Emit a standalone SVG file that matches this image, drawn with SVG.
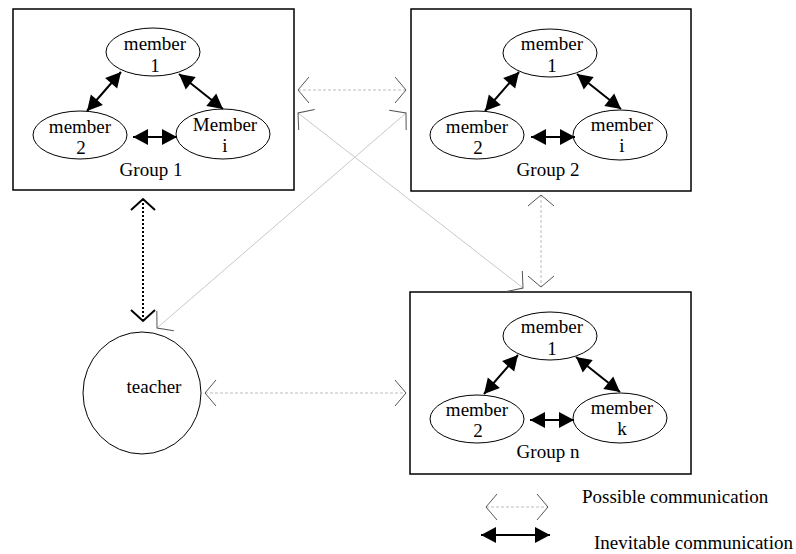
<svg xmlns="http://www.w3.org/2000/svg" width="796" height="554" viewBox="0 0 796 554">
<style>
text{font-family:"Liberation Serif","Times New Roman",serif;font-size:19px;fill:#000;text-anchor:middle}
.box{fill:#fff;stroke:#000;stroke-width:1.5}
.mem{fill:#fff;stroke:#000;stroke-width:1}
.inev{stroke:#000;stroke-width:2;fill:none;marker-start:url(#solidHead);marker-end:url(#solidHead)}
.poss{stroke:#bdbdbd;stroke-width:1;stroke-dasharray:3 2;fill:none;marker-start:url(#chev);marker-end:url(#chev)}
.possd{stroke:#c8c8c8;stroke-width:1;fill:none;marker-start:url(#chev);marker-end:url(#chev)}
.dot{stroke:#000;stroke-width:2;stroke-dasharray:2 2;fill:none;marker-start:url(#chevB);marker-end:url(#chevB)}
</style>
<defs>
<marker id="solidHead" markerUnits="userSpaceOnUse" viewBox="-16 -9 17 18" markerWidth="17" markerHeight="18" refX="0" refY="0" orient="auto-start-reverse">
<path d="M-15,-8 L0,0 L-15,8 Z" fill="#000"/>
</marker>
<marker id="chev" markerUnits="userSpaceOnUse" viewBox="-13 -15 15 30" markerWidth="15" markerHeight="30" refX="0" refY="0" orient="auto-start-reverse">
<path d="M-11,-13 L0,0 L-11,13" fill="none" stroke="#555" stroke-width="1"/>
</marker>
<marker id="chevB" markerUnits="userSpaceOnUse" viewBox="-14 -15 16 30" markerWidth="16" markerHeight="30" refX="0" refY="0" orient="auto-start-reverse">
<path d="M-11,-12 L0,0 L-11,12" fill="none" stroke="#000" stroke-width="2"/>
</marker>
</defs>
<rect width="796" height="554" fill="#fff"/>

<g id="group1" transform="translate(13,9)">
<rect class="box" x="0" y="0" width="281" height="181"/>
<g id="g1-member1"><ellipse class="mem" cx="140" cy="43" rx="47" ry="24"/><text x="142" y="41">member</text><text x="142" y="63">1</text></g>
<g id="g1-member2"><ellipse class="mem" cx="67" cy="126" rx="47" ry="24"/><text x="67" y="124">member</text><text x="68" y="145">2</text></g>
<g id="g1-memberi"><ellipse class="mem" cx="210" cy="125" rx="47" ry="25"/><text x="212" y="122">Member</text><text x="212" y="143">i</text></g>
<text x="138" y="167">Group 1</text>
</g>

<g id="group2" transform="translate(411,9)">
<rect class="box" x="0" y="0" width="280" height="182"/>
<g id="g2-member1"><ellipse class="mem" cx="139" cy="44" rx="47" ry="24"/><text x="141" y="41">member</text><text x="141" y="63">1</text></g>
<g id="g2-member2"><ellipse class="mem" cx="66" cy="126" rx="47" ry="24"/><text x="66" y="124">member</text><text x="67" y="145">2</text></g>
<g id="g2-memberi"><ellipse class="mem" cx="209" cy="126" rx="47" ry="25"/><text x="211" y="122">member</text><text x="211" y="143">i</text></g>
<text x="137" y="167">Group 2</text>
</g>

<g id="groupn" transform="translate(410,292)">
<rect class="box" x="0" y="0" width="281" height="182"/>
<g id="gn-member1"><ellipse class="mem" cx="140" cy="44" rx="47" ry="24"/><text x="142" y="41">member</text><text x="142" y="63">1</text></g>
<g id="gn-member2"><ellipse class="mem" cx="67" cy="127" rx="47" ry="24"/><text x="67" y="124">member</text><text x="68" y="145">2</text></g>
<g id="gn-memberk"><ellipse class="mem" cx="210" cy="126" rx="47" ry="25"/><text x="212" y="122">member</text><text x="212" y="143">k</text></g>
<text x="138" y="166">Group n</text>
</g>

<g id="teacher">
<ellipse class="mem" cx="142" cy="393" rx="59" ry="61"/>
<text x="154" y="393">teacher</text>
</g>

<g id="connectors">
<line class="inev" x1="121" y1="72" x2="87" y2="111"/>
<line class="inev" x1="179" y1="74" x2="223" y2="109"/>
<line class="inev" x1="133" y1="137" x2="177" y2="137"/>
<line class="inev" x1="519" y1="72" x2="485" y2="111"/>
<line class="inev" x1="577" y1="74" x2="621" y2="109"/>
<line class="inev" x1="531" y1="137" x2="575" y2="137"/>
<line class="inev" x1="518" y1="355" x2="484" y2="394"/>
<line class="inev" x1="576" y1="357" x2="620" y2="392"/>
<line class="inev" x1="530" y1="420" x2="574" y2="420"/>

<line class="poss" x1="298" y1="90" x2="406" y2="90"/>
<line class="possd" x1="298" y1="113" x2="523" y2="288"/>
<line class="possd" x1="406" y1="113" x2="157" y2="328"/>
<line class="poss" x1="541" y1="195" x2="541" y2="287"/>
<line class="poss" x1="205" y1="393" x2="406" y2="393"/>
<line class="dot" x1="143" y1="199" x2="143" y2="321"/>
</g>

<g id="legend">
<line class="poss" x1="486" y1="507" x2="548" y2="507"/>
<line class="inev" x1="481" y1="535" x2="550" y2="535"/>
<text x="582" y="503" style="text-anchor:start">Possible communication</text>
<text x="594" y="549" style="text-anchor:start">Inevitable communication</text>
</g>
</svg>
